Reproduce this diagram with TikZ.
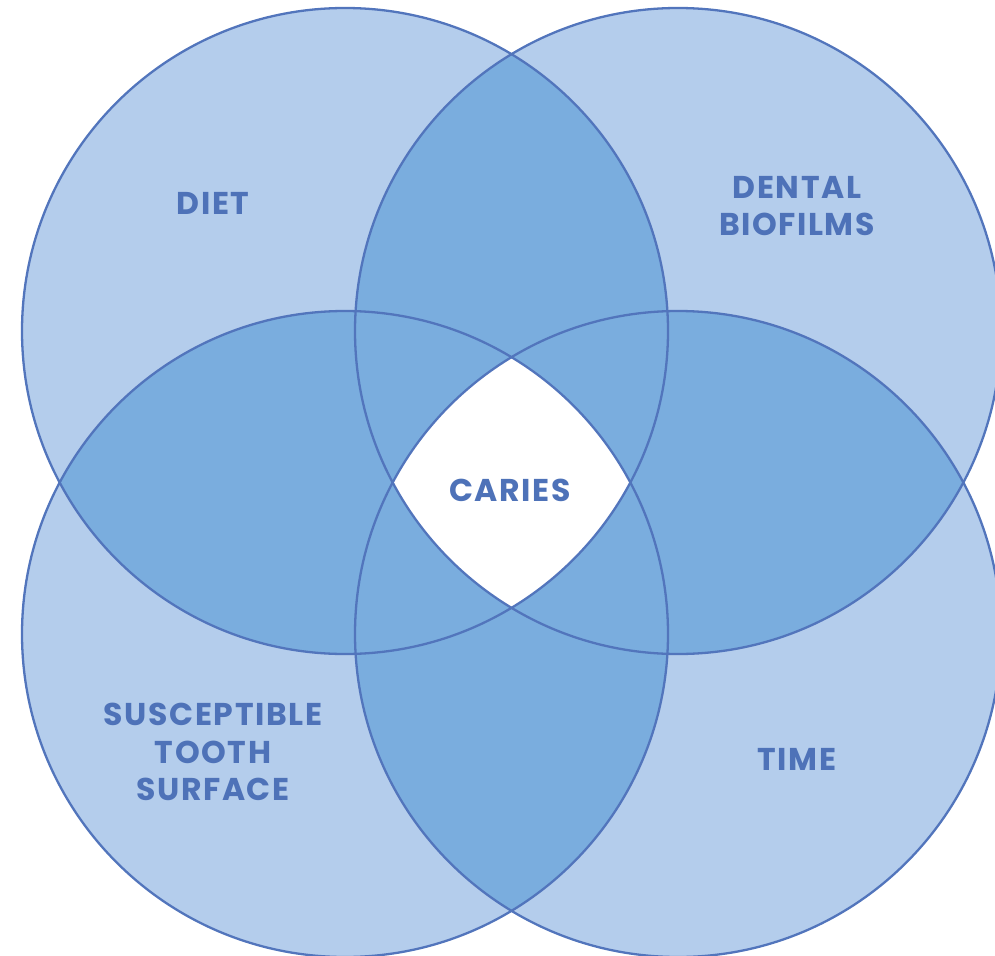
\documentclass[tikz,border=0pt]{standalone}
\usepackage{fontspec}
\setmainfont{Poppins}
\newfontfamily\lblfont[LetterSpace=5]{Poppins}
\definecolor{lightb}{RGB}{180,205,236}
\definecolor{midb}{RGB}{122,173,222}
\definecolor{edgeb}{RGB}{82,117,188}
\definecolor{textb}{RGB}{78,114,184}
\tikzset{
  lbl/.style={text=textb, font=\lblfont\fontsize{31.5}{37.5}\selectfont\bfseries, align=center, inner sep=0pt},
  ring/.style={draw=edgeb, line width=2.3pt}
}
\begin{document}
\begin{tikzpicture}[x=1pt,y=-1pt]
\useasboundingbox (0,0) rectangle (995,955);
\def\R{323pt}
\coordinate (TL) at (345,331);
\coordinate (TR) at (678,331);
\coordinate (BL) at (345,634);
\coordinate (BR) at (678,634);
\begin{scope}
\clip (0,0) rectangle (995,955);
\foreach \c in {TL,TR,BL,BR} { \fill[lightb] (\c) circle[radius=\R]; }
\foreach \a/\b in {TL/TR,TL/BL,TL/BR,TR/BL,TR/BR,BL/BR} {
  \begin{scope}
    \clip (\a) circle[radius=\R];
    \fill[midb] (\b) circle[radius=\R];
  \end{scope}
}
\begin{scope}
  \clip (TL) circle[radius=\R];
  \clip (TR) circle[radius=\R];
  \clip (BL) circle[radius=\R];
  \fill[white] (BR) circle[radius=\R];
\end{scope}
\foreach \c in {TL,TR,BL,BR} { \draw[ring] (\c) circle[radius=\R]; }
\end{scope}
\node[lbl] (diet) at (213,203) {DIET};
\node[lbl] (bio) at (797,206) {DENTAL\\BIOFILMS};
\node[lbl] (caries) at (510,490) {CARIES};
\node[lbl] (tooth) at (213,752) {SUSCEPTIBLE\\TOOTH\\SURFACE};
\node[lbl] (time) at (797,759) {TIME};
\end{tikzpicture}
\end{document}
